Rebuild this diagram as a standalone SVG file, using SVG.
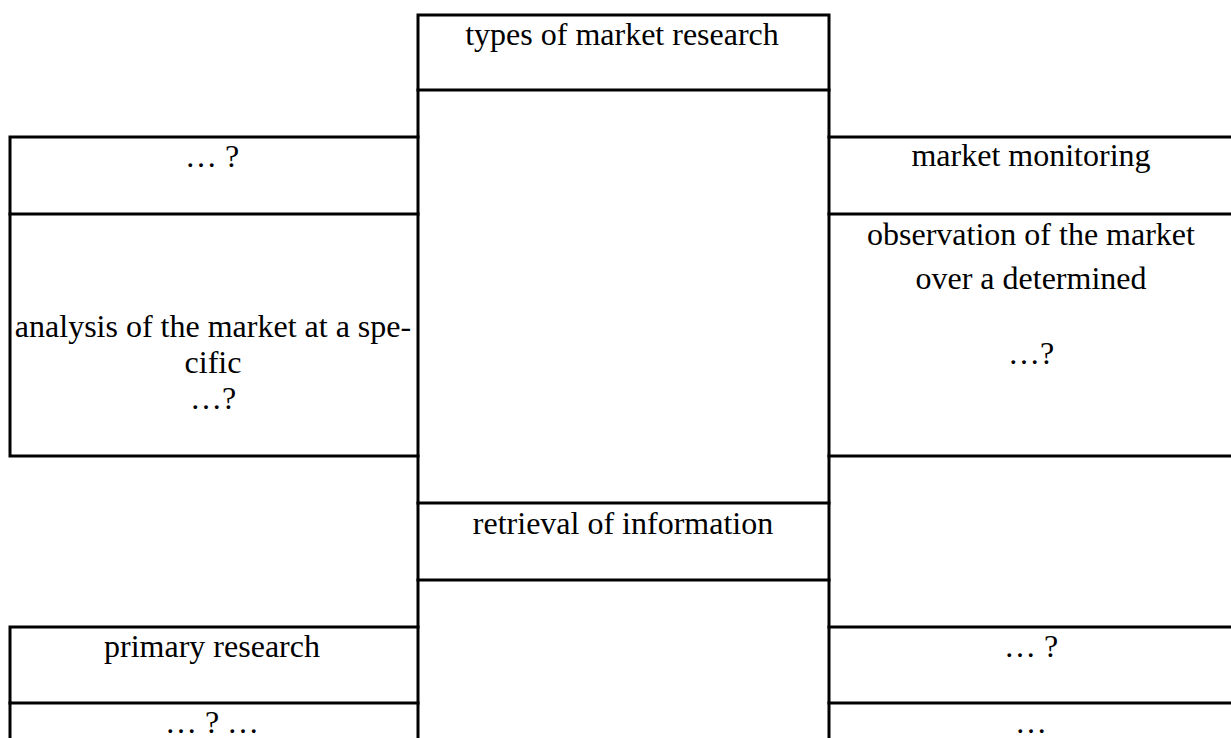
<svg xmlns="http://www.w3.org/2000/svg" width="1231" height="738" viewBox="0 0 1231 738">
<style>
.b{fill:none;stroke:#000;stroke-width:3;stroke-linecap:square}
.t{font-family:"Liberation Serif","Times New Roman",serif;font-size:32px;fill:#000;text-anchor:middle}
</style>
<rect width="1231" height="738" fill="#fff"/>
<g id="center-column">
<path class="b" d="M418,15 H829 M418,15 V738 M829,15 V738"/>
</g>
<g id="node-types">
<path class="b" d="M418,90 H829"/>
<text class="t" x="622" y="45">types of market research</text>
</g>
<g id="node-retrieval">
<path class="b" d="M418,503 H829 M418,580 H829"/>
<text class="t" x="623" y="534">retrieval of information</text>
</g>
<g id="node-left-q">
<path class="b" d="M10,137 H418 M10,214 H418 M10,137 V214"/>
<text class="t" x="212" y="167">… ?</text>
</g>
<g id="node-left-analysis">
<path class="b" d="M10,456 H418 M10,214 V456"/>
<text class="t" x="213" y="337">analysis of the market at a spe-</text>
<text class="t" x="213" y="373">cific</text>
<text class="t" x="213" y="409">…?</text>
</g>
<g id="node-right-monitoring">
<path class="b" d="M829,137 H1231 M829,214 H1231"/>
<text class="t" x="1031" y="166">market monitoring</text>
</g>
<g id="node-right-observation">
<path class="b" d="M829,456 H1231"/>
<text class="t" x="1031" y="245">observation of the market</text>
<text class="t" x="1031" y="289">over a determined</text>
<text class="t" x="1031" y="364">…?</text>
</g>
<g id="node-left-primary">
<path class="b" d="M10,627 H418 M10,703 H418 M10,627 V703"/>
<text class="t" x="212" y="657">primary research</text>
</g>
<g id="node-left-bottom">
<path class="b" d="M10,703 V738"/>
<text class="t" x="212" y="733">… ? …</text>
</g>
<g id="node-right-q">
<path class="b" d="M829,627 H1231 M829,703 H1231"/>
<text class="t" x="1031" y="657">… ?</text>
</g>
<g id="node-right-bottom">
<text class="t" x="1031" y="733">…</text>
</g>
<g id="connectors"></g>
</svg>
